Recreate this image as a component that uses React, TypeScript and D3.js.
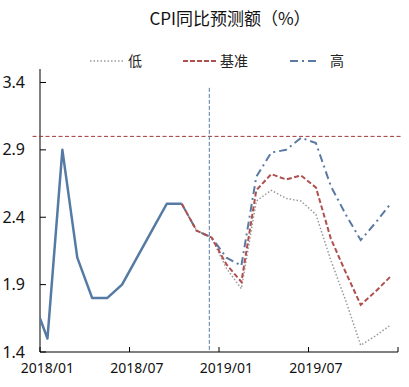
import React from "react";
import * as d3 from "d3";

// month index: 0 = 2018/01 (point drawn at month centre)
const actualMonths = [-1, 0, 1, 2, 3, 4, 5, 6, 7, 8, 9];
const actualValues = [1.8, 1.5, 2.9, 2.1, 1.8, 1.8, 1.9, 2.1, 2.3, 2.5, 2.5];

const forecastMonths = [9, 10, 11, 12, 13, 14, 15, 16, 17, 18, 19, 20, 21, 22, 23];
const highValues = [2.5, 2.3, 2.25, 2.1, 2.04, 2.7, 2.88, 2.9, 2.99, 2.95, 2.63, 2.42, 2.23, 2.36, 2.5];
const baseValues = [2.5, 2.3, 2.25, 2.05, 1.92, 2.6, 2.72, 2.68, 2.71, 2.62, 2.24, 1.99, 1.75, 1.85, 1.96];
const lowValues = [2.5, 2.3, 2.25, 2.02, 1.87, 2.52, 2.6, 2.54, 2.52, 2.42, 2.08, 1.78, 1.45, 1.52, 1.6];

const xTickMonths = [0, 6, 12, 18, 24];
const xTickLabels = ["2018/01", "2018/07", "2019/01", "2019/07"];
const yTicks = [1.4, 1.9, 2.4, 2.9, 3.4];
const targetLevel = 3.0;
const forecastDateMonth = 11.35;
const legendLabels = ["低", "基准", "高"];
const titleText = "CPI同比预测额（%）";

const W = 409;
const H = 387;

export default function App() {
  const x = d3.scaleLinear().domain([0, 24]).range([40, 398]);
  const y = d3.scaleLinear().domain([1.4, 3.5]).range([352, 69]);
  const line = d3
    .line<[number, number]>()
    .x((d) => x(d[0] + 0.5))
    .y((d) => y(d[1]));

  const pts = (ms: number[], vs: number[]) => ms.map((m, i) => [m, vs[i]] as [number, number]);

  const blue = "#557aa3";
  const red = "#b0504e";
  const darkRed = "#a03836";
  const gray = "#9a9a9a";
  const hiBlue = "#5a7aa3";
  const font = "'Noto Sans', 'Noto Sans CJK SC', sans-serif";

  const legend = [
    { label: legendLabels[0], x0: 90, x1: 123, tx: 128, color: gray, dash: "1.5,2", w: 1.5 },
    { label: legendLabels[1], x0: 183, x1: 218, tx: 220, color: red, dash: "5,2", w: 2 },
    { label: legendLabels[2], x0: 290, x1: 320, tx: 330, color: hiBlue, dash: "8,4,2,4", w: 2 },
  ];

  return (
    <svg
      width={W}
      height={H}
      style={{ position: "absolute", left: 0, top: 0, background: "#fff" }}
      fontFamily={font}
    >
      <defs>
        <clipPath id="plotClip">
          <rect x={40} y={60} width={360} height={300} />
        </clipPath>
      </defs>
      <text
        x={230}
        y={25}
        textAnchor="middle"
        fontSize={17}
        fill="#111"
        fontFamily="'Noto Sans CJK SC', sans-serif"
      >
        {titleText}
      </text>

      {legend.map((l) => (
        <g key={l.label}>
          <line x1={l.x0} x2={l.x1} y1={61} y2={61} stroke={l.color} strokeWidth={l.w} strokeDasharray={l.dash} />
          <text x={l.tx} y={66} fontSize={14} fill="#222" fontFamily="'Noto Sans CJK SC', sans-serif">
            {l.label}
          </text>
        </g>
      ))}

      {/* axes */}
      <line x1={40} x2={40} y1={y(3.5)} y2={y(1.4)} stroke="#000" strokeWidth={1} />
      <line x1={40} x2={398} y1={y(1.4)} y2={y(1.4)} stroke="#000" strokeWidth={1} />
      {yTicks.map((t) => (
        <g key={t}>
          <line x1={40} x2={46} y1={y(t)} y2={y(t)} stroke="#000" />
          <text x={25} y={y(t) + 5.5} textAnchor="end" fontSize={16} fill="#111">
            {t.toFixed(1)}
          </text>
        </g>
      ))}
      {xTickMonths.map((m) => (
        <line key={m} x1={x(m)} x2={x(m)} y1={y(1.4)} y2={y(1.4) - 5} stroke="#000" />
      ))}
      {xTickLabels.map((l, i) => (
        <text key={l} x={x(xTickMonths[i] + 0.5)} y={373} textAnchor="middle" fontSize={14} fill="#111">
          {l}
        </text>
      ))}

      {/* reference lines */}
      <line
        x1={x(-0.5)}
        x2={x(24.3)}
        y1={y(targetLevel)}
        y2={y(targetLevel)}
        stroke={darkRed}
        strokeWidth={1}
        strokeDasharray="4,2.5"
      />
      <line
        x1={x(forecastDateMonth)}
        x2={x(forecastDateMonth)}
        y1={y(3.36)}
        y2={y(1.4)}
        stroke={blue}
        strokeWidth={1}
        strokeDasharray="4,2"
      />

      <g clipPath="url(#plotClip)" fill="none">
        <path d={line(pts(actualMonths, actualValues)) || ""} stroke={blue} strokeWidth={2.5} strokeLinejoin="round" />
        <path d={line(pts(forecastMonths, lowValues)) || ""} stroke={gray} strokeWidth={1.5} strokeDasharray="1.5,2" />
        <path d={line(pts(forecastMonths, highValues)) || ""} stroke={hiBlue} strokeWidth={2} strokeDasharray="8,4,2,4" />
        <path d={line(pts(forecastMonths, baseValues)) || ""} stroke={red} strokeWidth={2} strokeDasharray="5,2.5" />
      </g>
    </svg>
  );
}
